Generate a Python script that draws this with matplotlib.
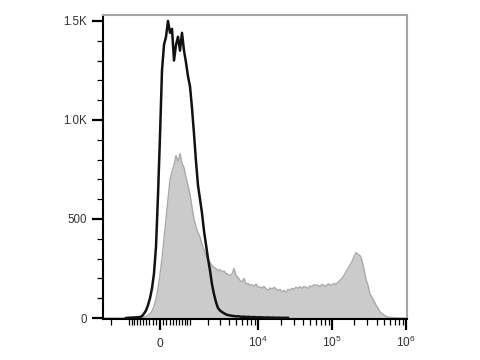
import matplotlib
import numpy as np

matplotlib.use("Agg")
import matplotlib.pyplot as plt

plt.rcParams["font.family"] = ["Liberation Sans", "DejaVu Sans"]
plt.rcParams["mathtext.default"] = "regular"

# counts per display channel (channels evenly spaced on the biex axis)
stained_counts = [
    0, 0, 0, 0, 0,
    0, 0, 0, 0, 0,
    0, 0, 0, 0, 0,
    0, 0, 0, 0, 2,
    5, 8, 14, 22, 35,
    60, 95, 150, 220, 300,
    400, 500, 600, 700, 740,
    770, 820, 790, 830, 780,
    760, 710, 670, 625, 560,
    500, 460, 430, 410, 370,
    345, 315, 295, 280, 265,
    255, 250, 240, 245, 232,
    238, 225, 220, 215, 222,
    250, 215, 205, 190, 182,
    200, 172, 175, 165, 168,
    160, 172, 155, 158, 150,
    160, 148, 140, 152, 145,
    155, 148, 138, 145, 132,
    140, 128, 145, 140, 150,
    145, 155, 150, 158, 150,
    160, 155, 150, 162, 158,
    168, 165, 165, 158, 170,
    165, 160, 172, 168, 165,
    175, 170, 180, 190, 200,
    215, 235, 250, 268, 285,
    310, 330, 322, 315, 290,
    245, 195, 165, 120, 105,
    85, 65, 48, 32, 22,
    15, 8, 5, 3, 2,
    2, 1, 1, 0, 0,
    0, 0,
]

control_counts = [
    0, 0, 0, 0, 0,
    0, 0, 0, 0, 0,
    0, 0, 1, 2, 2,
    3, 3, 4, 5, 10,
    22, 38, 65, 100, 150,
    225, 360, 620, 920, 1250,
    1380, 1420, 1500, 1440, 1460,
    1300, 1380, 1420, 1350, 1440,
    1350, 1290, 1220, 1170, 1060,
    930, 790, 670, 600, 530,
    440, 370, 300, 240, 170,
    120, 80, 50, 38, 30,
    24, 18, 15, 13, 11,
    10, 8, 9, 7, 6,
    7, 5, 6, 5, 4,
    5, 4, 3, 4, 3,
    3, 2, 3, 2, 2,
    2, 1, 2, 1, 1,
    1, 1, 1,
]

x_tick_values = [0, 1e4, 1e5, 1e6]
x_tick_labels = ["0", "$10^4$", "$10^5$", "$10^6$"]
y_tick_values = [0, 500, 1000, 1500]
y_tick_labels = ["0", "500", "1.0K", "1.5K"]

LIN_WIDTH = 920.0
X_MIN, X_MAX = -2600.0, 1.03e6
Y_MIN, Y_MAX = -5, 1530

# channel centres, evenly spaced in asinh units across the axis range
u_lo = np.arcsinh(X_MIN / LIN_WIDTH)
u_hi = np.arcsinh(X_MAX / LIN_WIDTH)
n_chan = len(stained_counts)
step = (u_hi - u_lo) / n_chan
chan_x = LIN_WIDTH * np.sinh(u_lo + step * (np.arange(n_chan) + 0.5))

stained = np.array(stained_counts, dtype=float)
control = np.array(control_counts, dtype=float)
start = int(np.argmax(control > 0)) - 1

fig = plt.figure(figsize=(4.8, 3.6), dpi=100)
ax = fig.add_axes([103 / 480, 41 / 360, 304 / 480, 304 / 360])
ax.set_xscale("asinh", linear_width=LIN_WIDTH)

ax.fill_between(chan_x, Y_MIN, stained, color="#cbcbcb", linewidth=0, zorder=1)
ax.plot(chan_x, stained, color="#a9a9a9", linewidth=1.0, zorder=2)
ax.plot(
    chan_x[start : len(control)],
    control[start:],
    color="#111111",
    linewidth=1.8,
    zorder=3,
)

ax.set_xlim(X_MIN, X_MAX)
ax.set_ylim(Y_MIN, Y_MAX)

minor_x = [m * 10**e for e in (2, 3, 4, 5) for m in range(1, 10)]
minor_x = [v for v in minor_x if v not in x_tick_values]
minor_x += [-v for v in minor_x if v <= 2000]
ax.set_xticks(x_tick_values, x_tick_labels)
ax.set_xticks(minor_x, minor=True)
ax.set_yticks(y_tick_values, y_tick_labels)
ax.set_yticks([v for v in range(100, 1500, 100) if v % 500], minor=True)

ax.tick_params(which="major", length=8, width=1.6, color="black",
               labelsize=8.3, labelcolor="#333333")
ax.tick_params(which="minor", length=4, width=0.9, color="black")
ax.tick_params(axis="y", which="major", pad=3.5)
ax.tick_params(axis="x", which="major", pad=12, labelsize=8.6)
for lbl in ax.get_xticklabels():
    lbl.set_verticalalignment("baseline")

for side in ("left", "bottom"):
    ax.spines[side].set_color("black")
    ax.spines[side].set_linewidth(1.5)
for side in ("top", "right"):
    ax.spines[side].set_color("#a6a6a6")
    ax.spines[side].set_linewidth(1.5)

fig.savefig("out.png", dpi=100)
plt.close(fig)
